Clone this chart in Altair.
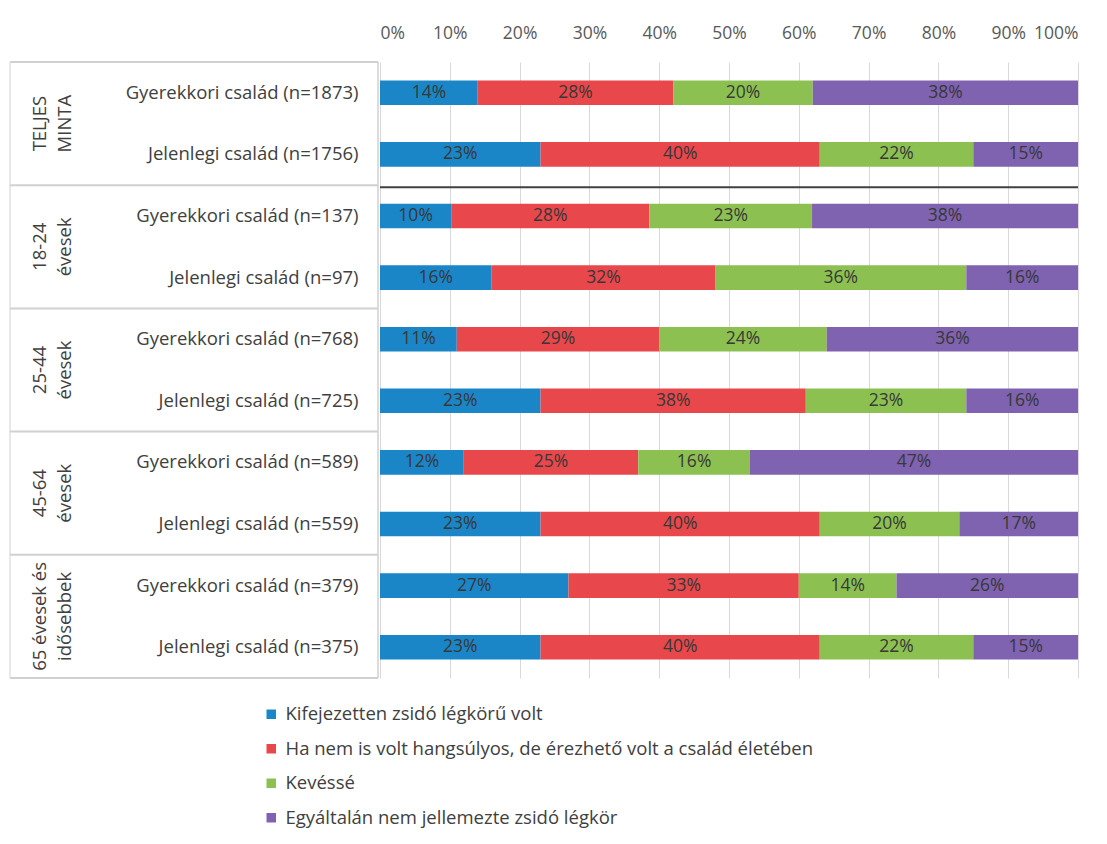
import altair as alt
import pandas as pd

row_labels = [
    "Gyerekkori család (n=1873)", "Jelenlegi család (n=1756)",
    "Gyerekkori család (n=137)", "Jelenlegi család (n=97)",
    "Gyerekkori család (n=768)", "Jelenlegi család (n=725)",
    "Gyerekkori család (n=589)", "Jelenlegi család (n=559)",
    "Gyerekkori család (n=379)", "Jelenlegi család (n=375)",
]
group_labels = ["TELJES\nMINTA", "18-24\névesek", "25-44\névesek", "45-64\névesek", "65 évesek és\nidősebbek"]

categories = [
    "Kifejezetten zsidó légkörű volt",
    "Ha nem is volt hangsúlyos, de érezhető volt a család életében",
    "Kevéssé",
    "Egyáltalán nem jellemezte zsidó légkör",
]
colors = ["#1a86c8", "#e8474b", "#8cc152", "#7f62b0"]

kifejezetten = [14, 23, 10.2, 16, 11, 23, 12, 23, 27, 23]
ha_nem = [28, 40, 28.4, 32, 29, 38, 25, 40, 33, 40]
kevesse = [20, 22, 23.3, 36, 24, 23, 16, 20, 14, 22]
egyaltalan = [38, 15, 38.1, 16, 36, 16, 47, 17, 26, 15]

series = [kifejezetten, ha_nem, kevesse, egyaltalan]

recs = []
for i, row in enumerate(row_labels):
    start = 0.0
    for k, cat in enumerate(categories):
        v = series[k][i]
        recs.append({
            "row": row, "cat": cat, "order": k,
            "start": start, "end": start + v, "mid": start + v / 2,
            "label": f"{round(v)}%",
        })
        start += v
df = pd.DataFrame(recs)

gdf = pd.DataFrame({"row": row_labels[0::2], "group": group_labels})
sep_df = pd.DataFrame({"row": row_labels[2::2]})
sep_dark = pd.DataFrame({"row": [row_labels[2]]})

FONT = "Open Sans"
W, H = 698, 616
PAD_OUT = 0.3
step = H / len(row_labels)
# offsets relative to the band start of a row
to_boundary = -PAD_OUT * step
to_group_center = (1 - PAD_OUT) * step

yscale = alt.Scale(domain=row_labels, paddingInner=0.6, paddingOuter=PAD_OUT)
yenc = alt.Y("row:N", scale=yscale, sort=row_labels,
             axis=alt.Axis(title=None, labelFontSize=18.5, labelColor="#404040",
                           labelPadding=22, ticks=False, domain=False, labelFont=FONT,
                           labelLimit=400))

bars = alt.Chart(df).mark_bar().encode(
    x=alt.X("start:Q", scale=alt.Scale(domain=[0, 100], nice=False),
            axis=alt.Axis(orient="top", values=list(range(0, 101, 10)),
                          labelExpr="datum.value + '%'", title=None,
                          grid=True, gridColor="#d9d9d9", domain=False, ticks=False,
                          labelFontSize=17.5, labelColor="#595959", labelPadding=20,
                          labelFont=FONT)),
    x2="end:Q",
    y=yenc,
    color=alt.Color("cat:N", scale=alt.Scale(domain=categories, range=colors),
                    sort=categories,
                    legend=alt.Legend(title=None, orient="none", legendX=-118, legendY=643,
                                      direction="vertical", symbolType="square",
                                      symbolSize=90, symbolStrokeWidth=0,
                                      labelFontSize=18.5, labelColor="#404040",
                                      labelFont=FONT, rowPadding=15.5, labelOffset=5,
                                      labelLimit=700)),
    order=alt.Order("order:Q"),
)

texts = alt.Chart(df).mark_text(fontSize=17.5, color="#383838", font=FONT).encode(
    x="mid:Q", y=alt.Y("row:N", scale=yscale, sort=row_labels), text="label:N"
)

group_text = alt.Chart(gdf).mark_text(
    angle=270, fontSize=18.5, color="#404040", font=FONT, lineBreak="\n",
    lineHeight=25, align="center", baseline="middle"
).encode(
    x=alt.value(-340), y=alt.Y("row:N", scale=yscale, sort=row_labels),
    yOffset=alt.value(to_group_center), text="group:N"
)

sep_rules = alt.Chart(sep_df).mark_rule(color="#d0d0d0", strokeWidth=2).encode(
    x=alt.value(-370), x2=alt.value(-2),
    y=alt.Y("row:N", scale=yscale, sort=row_labels), yOffset=alt.value(to_boundary),
)

dark_rule = alt.Chart(sep_dark).mark_rule(color="#404040", strokeWidth=2).encode(
    x=alt.value(0), x2=alt.value(W),
    y=alt.Y("row:N", scale=yscale, sort=row_labels), yOffset=alt.value(to_boundary + 2),
)

box_top = alt.Chart(gdf.head(1)).mark_rule(color="#d0d0d0", strokeWidth=2).encode(
    x=alt.value(-370), x2=alt.value(-2), y=alt.value(0)
)
box_bottom = alt.Chart(gdf.head(1)).mark_rule(color="#d0d0d0", strokeWidth=2).encode(
    x=alt.value(-370), x2=alt.value(-2), y=alt.value(H)
)
box_left = alt.Chart(gdf.head(1)).mark_rule(color="#e0e0e0", strokeWidth=1.5).encode(
    x=alt.value(-370), y=alt.value(0), y2=alt.value(H)
)
box_right = alt.Chart(gdf.head(1)).mark_rule(color="#d0d0d0", strokeWidth=1.5).encode(
    x=alt.value(-2), y=alt.value(0), y2=alt.value(H)
)

chart = alt.layer(
    box_top, box_bottom, box_left, box_right, sep_rules,
    bars, texts, dark_rule, group_text
).properties(
    width=W, height=H,
    autosize=alt.AutoSizeParams(type="none"),
    padding={"left": 372, "top": 54, "right": 21, "bottom": 150},
    background="white",
).configure_view(stroke=None)

chart.save("out.html", embed_options={"renderer": "svg", "actions": False})
